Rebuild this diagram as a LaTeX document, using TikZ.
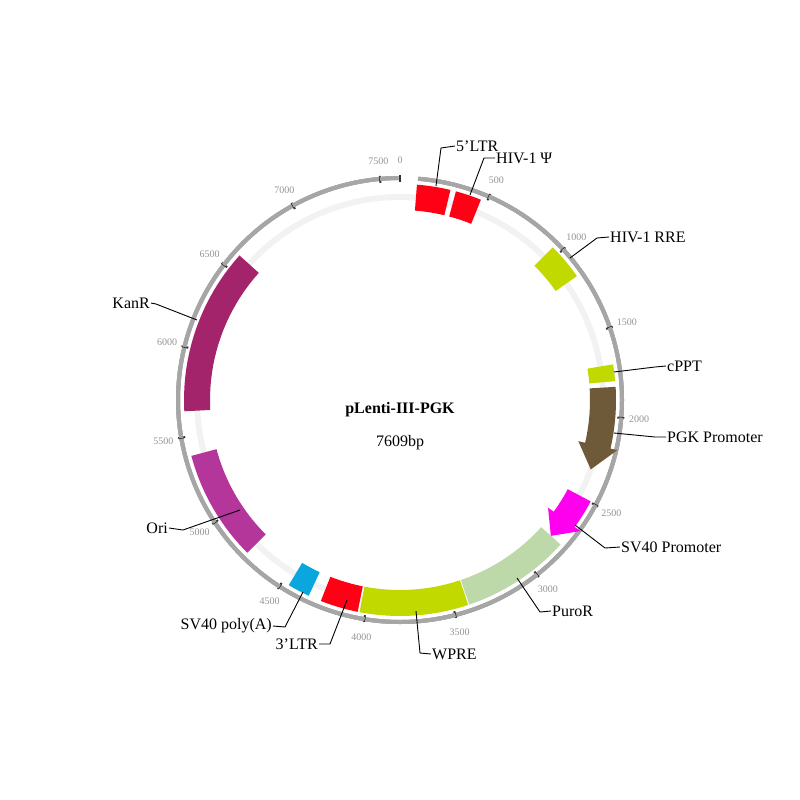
\documentclass[tikz,border=0pt]{standalone}
\usepackage{fontspec}
\setmainfont{Liberation Serif}
\begin{document}
\begin{tikzpicture}[x=1pt,y=-1pt,
  lbl/.style={font=\fontsize{16}{18}\selectfont,inner sep=1pt},
  tk/.style={font=\fontsize{10}{12}\selectfont,text=gray!85,inner sep=0pt},
  lead/.style={draw=black,line width=0.9pt}]
\useasboundingbox (0,0) rectangle (800,800);
\definecolor{ltr}{HTML}{FF0014}
\definecolor{yg}{HTML}{C2D900}
\definecolor{pgk}{HTML}{6E5A38}
\definecolor{mag}{HTML}{FF00EE}
\definecolor{puro}{HTML}{BDD9AA}
\definecolor{kan}{HTML}{A3246A}
\definecolor{ori}{HTML}{B5369A}
\definecolor{pa}{HTML}{0AA6DE}
\newcommand{\PP}[2]{({400+(#2)*sin(#1)},{400-(#2)*cos(#1)})}
\newcommand{\feat}[3]{\fill[#3] \PP{#1}{190} \foreach \t in {0,...,20}{ -- \PP{#1+(#2-#1)*\t/20}{190}} \foreach \t in {20,...,0}{ -- \PP{#1+(#2-#1)*\t/20}{216}} -- cycle;}
\newcommand{\arrowfeat}[4]{\fill[#4] \PP{#1}{190} \foreach \t in {0,...,20}{ -- \PP{#1+(#2-#1)*\t/20}{190}} -- \PP{#2}{183} -- \PP{#3}{203} -- \PP{#2}{223} \foreach \t in {20,...,0}{ -- \PP{#1+(#2-#1)*\t/20}{216}} -- cycle;}
% ring
\draw[line width=6pt,color=gray!10] (400,400) circle[radius=203];
% ticks
\foreach \b in {100,...,7600}{
  \pgfmathtruncatemacro{\m}{mod(\b,500)}
  \pgfmathsetmacro{\a}{\b/7609*360}
  \ifnum\m=0
    \draw[line width=2pt,color=black!80] \PP{\a}{218} -- \PP{\a}{225};
  \else
    \draw[line width=0.6pt,color=gray!70] \PP{\a}{220} -- \PP{\a}{224};
  \fi}
\draw[line width=2pt,color=black!80] \PP{0}{218} -- \PP{0}{225};
\foreach \b in {0,500,...,7500}{
  \pgfmathsetmacro{\a}{\b/7609*360}
  \node[tk] (t\b) at \PP{\a}{240} {\b};}
% features
\feat{4.5}{13.5}{ltr}
\feat{15}{22}{ltr}
\feat{45}{55}{yg}
\feat{80.5}{85}{yg}
\arrowfeat{86.5}{103}{110}{pgk}
\arrowfeat{118}{126}{132}{mag}
\feat{132}{161.3}{puro}
\feat{161.6}{190.8}{yg}
\feat{191.3}{201.5}{ltr}
\feat{205}{211}{pa}
\feat{225}{255}{ori}
\feat{267}{312}{kan}
% labels
\node[lbl,anchor=west] (l1) at (455,146) {5'LTR};
\draw[lead] (436,186) -- (441,148) -- (l1.west);
\node[lbl,anchor=west] (l2) at (495,158) {HIV-1 Ψ};
\draw[lead] (470,195) -- (484,158) -- (l2.west);
\node[lbl,anchor=west] (l3) at (609,237) {HIV-1 RRE};
\draw[lead] (570,258) -- (597,238) -- (l3.west);
\node[lbl,anchor=west] (l4) at (666,366) {cPPT};
\draw[lead] (614,372) -- (655,367) -- (l4.west);
\node[lbl,anchor=west] (l5) at (666,437) {PGK Promoter};
\draw[lead] (614,433) -- (655,437) -- (l5.west);
\node[lbl,anchor=west] (l6) at (620,547) {SV40 Promoter};
\draw[lead] (575,525) -- (605,548) -- (l6.west);
\node[lbl,anchor=west] (l7) at (551,611) {PuroR};
\draw[lead] (517,578) -- (540,612) -- (l7.west);
\node[lbl,anchor=west] (l8) at (431,654) {WPRE};
\draw[lead] (416,611) -- (420,653) -- (l8.west);
\node[lbl,anchor=east] (l9) at (319,644) {3'LTR};
\draw[lead] (347,600) -- (330,644) -- (l9.east);
\node[lbl,anchor=east] (l10) at (273,626) {SV40 poly(A)};
\draw[lead] (303,592) -- (285,627) -- (l10.east);
\node[lbl,anchor=east] (l11) at (169,528) {Ori};
\draw[lead] (240,510) -- (183,530) -- (l11.east);
\node[lbl,anchor=east] (l12) at (151,303) {KanR};
\draw[lead] (197,320) -- (156,304) -- (l12.east);
% center
\node[lbl,font=\fontsize{16}{18}\selectfont\bfseries] (title) at (400,410) {pLenti-III-PGK};
\node[lbl] (size) at (400,443) {7609bp};
\end{tikzpicture}
\end{document}
